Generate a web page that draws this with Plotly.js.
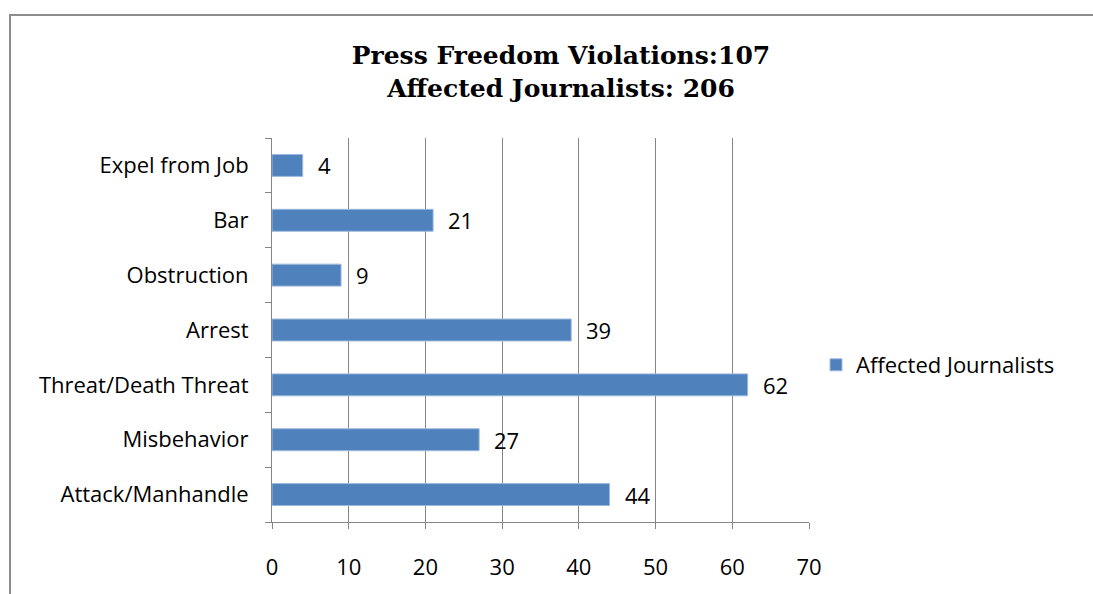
<!DOCTYPE html>
<html>
<head>
<meta charset="utf-8">
<script src="https://cdn.plot.ly/plotly-3.0.1.min.js"></script>
<style>html,body{margin:0;padding:0;background:#fff;}#chart{width:1093px;height:594px;}</style>
</head>
<body>
<div id="chart"></div>
<script>
const categories = ["Attack/Manhandle", "Misbehavior", "Threat/Death Threat", "Arrest", "Obstruction", "Bar", "Expel from Job"];
const affectedJournalists = [44, 27, 62, 39, 9, 21, 4];
const seriesName = "Affected Journalists";
const titleLines = ["Press Freedom Violations:107", "Affected Journalists: 206"];
const xTicks = [0, 10, 20, 30, 40, 50, 60, 70];

const W = 1093, H = 594;
const L = 272, R = 809, T = 138, B = 522;
const pw = R - L, ph = B - T;
const px = v => (v - L) / pw;
const py = v => 1 - (v - T) / ph;

const labelFont = {family: "'Open Sans', 'Noto Sans', sans-serif", size: 22, color: "#000"};

const trace = {
  type: "bar",
  orientation: "h",
  y: categories,
  x: affectedJournalists,
  name: seriesName,
  marker: {color: "#4F81BD", line: {color: "#9DB9DD", width: 1}},
  showlegend: true,
  hoverinfo: "x+y"
};

const annotations = categories.map((c, i) => ({
  x: affectedJournalists[i], y: c, xref: "x", yref: "y",
  text: String(affectedJournalists[i]), showarrow: false,
  xanchor: "left", xshift: 13, font: labelFont
}));

const layout = {
  width: W, height: H,
  margin: {l: L, r: W - R, t: T, b: H - B, pad: 0},
  paper_bgcolor: "#fff", plot_bgcolor: "#fff",
  title: {
    text: "<b>" + titleLines.join("<br>") + "</b>",
    x: 561 / W, xref: "container", xanchor: "center",
    y: 1 - 64 / H, yref: "container", yanchor: "middle",
    font: {family: "'DejaVu Serif', 'Liberation Serif', serif", size: 25, color: "#000"}
  },
  bargap: 0.6,
  xaxis: {
    range: [0, 70], tickvals: xTicks, ticktext: xTicks.map(String),
    showgrid: true, gridcolor: "#868686", gridwidth: 1,
    showline: true, linecolor: "#868686", linewidth: 1,
    ticks: "outside", ticklen: 6, tickcolor: "#868686",
    ticklabelstandoff: 20,
    zeroline: false, tickfont: labelFont, fixedrange: true
  },
  yaxis: {
    type: "category", categoryorder: "array", categoryarray: categories,
    showgrid: false, tickson: "boundaries",
    showline: true, linecolor: "#868686", linewidth: 1,
    ticks: "outside", ticklen: 6, tickcolor: "#868686",
    ticklabelstandoff: 18,
    tickfont: labelFont, fixedrange: true
  },
  legend: {
    x: px(816), y: py(365), xanchor: "left", yanchor: "middle",
    font: labelFont, bgcolor: "rgba(0,0,0,0)", itemwidth: 30
  },
  annotations: annotations,
  shapes: [{
    type: "rect", xref: "paper", yref: "paper",
    x0: px(10), x1: px(1110), y0: py(620), y1: py(15),
    line: {color: "#8c8c8c", width: 2}, fillcolor: "rgba(0,0,0,0)", layer: "below"
  }]
};

Plotly.newPlot("chart", [trace], layout, {displayModeBar: false, staticPlot: true});
</script>
</body>
</html>
